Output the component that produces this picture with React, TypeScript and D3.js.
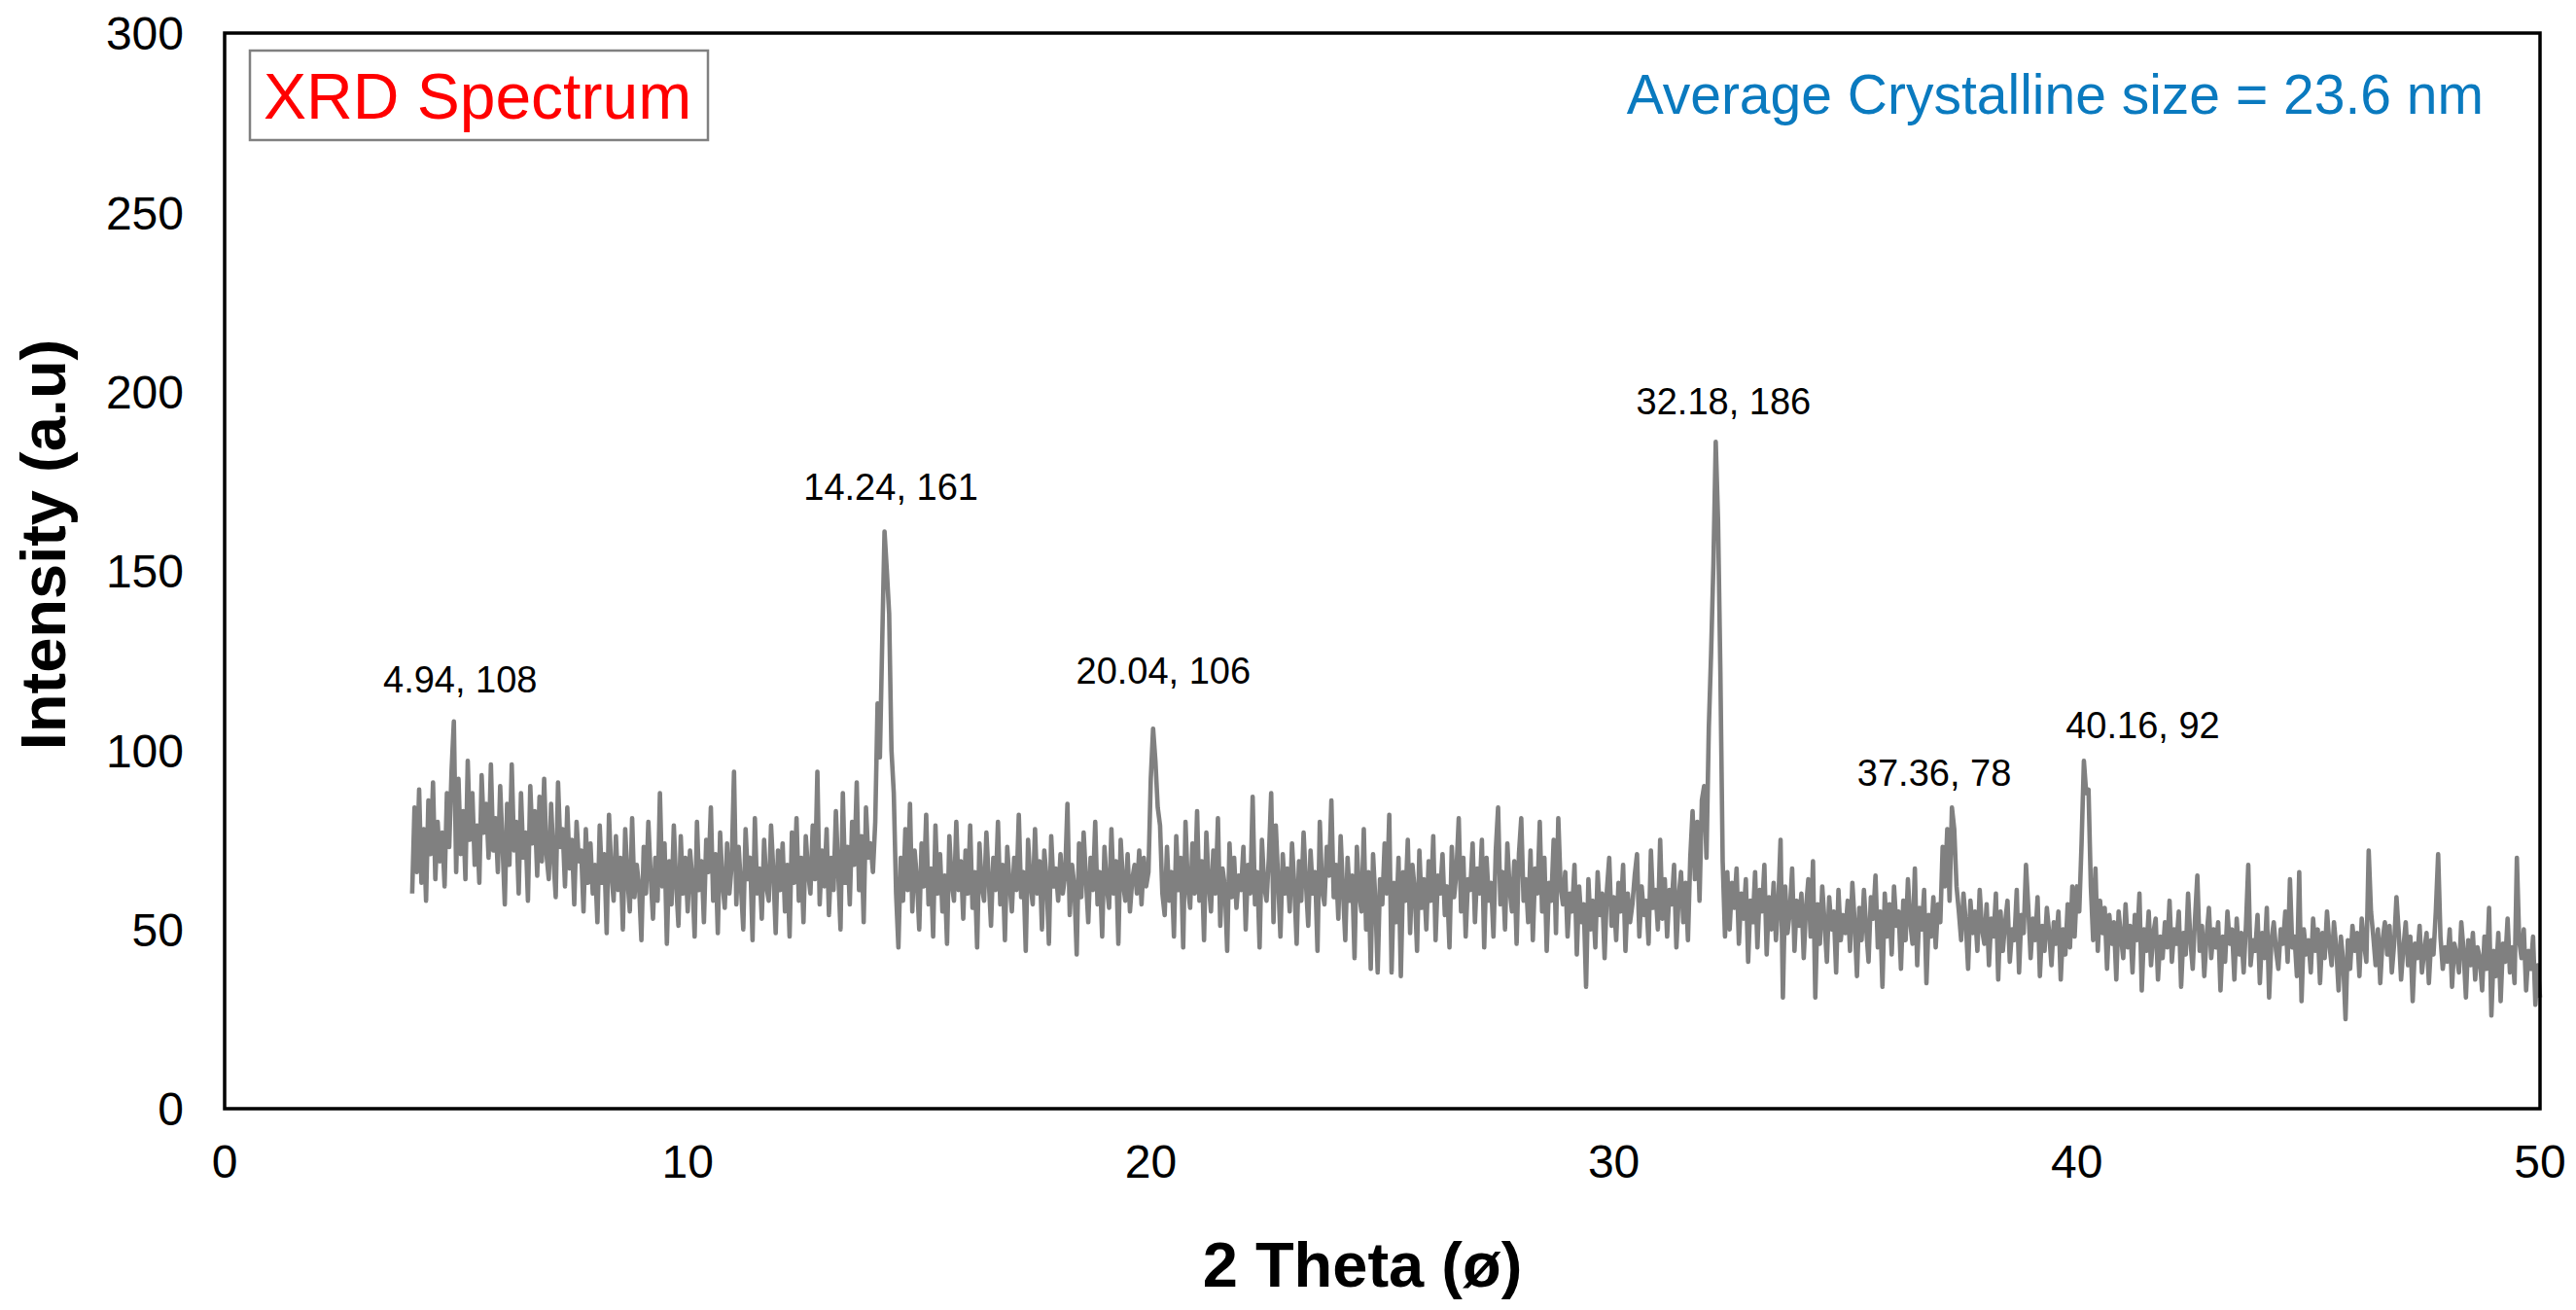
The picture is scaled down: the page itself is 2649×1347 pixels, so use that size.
import React from "react";
import * as d3 from "d3";

// ---------- data ----------
const X_START = 4.05;
const X_STEP = 0.05;

// XRD intensity counts, one row per degree of 2θ (row 4 starts at 4.05)
const intensity: number[] = [
  // 4.05 – 4.95
  60, 84, 66, 89, 63, 78, 58, 86, 71, 91, 64, 80, 69, 77, 62, 88, 73, 94, 108,
  // 5
  66, 92, 71, 83, 64, 97, 75, 88, 68, 79, 63, 93, 77, 85, 70, 96, 72, 81, 66, 90,
  // 6
  74, 57, 85, 68, 96, 72, 80, 60, 88, 70, 77, 58, 90, 74, 83, 65, 87, 69, 92, 71,
  // 7
  64, 85, 70, 59, 91, 73, 78, 62, 84, 67, 75, 57, 80, 69, 72, 55, 78, 63, 74, 60,
  // 8
  68, 52, 79, 63, 71, 49, 82, 66, 58, 76, 61, 70, 50, 78, 64, 55, 81, 59, 68, 62,
  // 9
  47, 73, 60, 80, 65, 53, 70, 58, 88, 62, 74, 46, 69, 57, 79, 63, 51, 76, 60, 70,
  // 10
  55, 72, 64, 48, 80, 61, 69, 52, 75, 66, 84, 58, 71, 49, 77, 63, 56, 74, 60, 68,
  // 11
  94, 57, 73, 62, 50, 78, 64, 70, 47, 81, 60, 67, 53, 75, 62, 58, 79, 66, 49, 72,
  // 12
  61, 74, 55, 68, 48, 77, 63, 81, 58, 70, 52, 76, 66, 60, 79, 64, 94, 57, 72, 62,
  // 13
  78, 54, 70, 61, 83, 66, 50, 88, 63, 73, 57, 80, 68, 91, 61, 76, 52, 84, 70, 74,
  // 14
  66, 80, 113, 98, 130, 161, 150, 138, 100, 88, 60, 45, 70, 58, 78, 61, 85, 55, 72, 64,
  // 15
  50, 74, 62, 82, 57, 67, 48, 79, 60, 71, 55, 65, 46, 76, 63, 58, 80, 61, 69, 53,
  // 16
  72, 60, 79, 56, 66, 45, 74, 62, 58, 77, 64, 51, 70, 61, 80, 57, 68, 47, 73, 63,
  // 17
  55, 70, 61, 82, 59, 66, 44, 75, 63, 57, 78, 60, 69, 50, 72, 64, 46, 76, 62, 67,
  // 18
  58, 71, 60, 65, 85, 54, 68, 62, 43, 74, 59, 77, 64, 52, 70, 61, 80, 57, 66, 48,
  // 19
  73, 62, 56, 78, 60, 69, 46, 75, 63, 58, 71, 55, 64, 68, 60, 72, 57, 70, 62, 66,
  // 20
  92, 106, 97, 84, 79, 60, 54, 73, 58, 66, 48, 76, 61, 70, 45, 80, 62, 56, 74, 60,
  // 21
  83, 58, 69, 47, 77, 63, 55, 72, 60, 81, 51, 67, 62, 44, 74, 59, 70, 56, 65, 61,
  // 22
  73, 50, 68, 60, 87, 57, 66, 45, 75, 62, 58, 70, 88, 52, 79, 64, 48, 71, 60, 67,
  // 23
  55, 74, 62, 46, 69, 58, 77, 63, 51, 72, 60, 66, 44, 80, 61, 57, 73, 65, 86, 59,
  // 24
  68, 53, 76, 61, 47, 70, 58, 65, 42, 73, 60, 55, 78, 50, 66, 39, 71, 58, 38, 64,
  // 25
  57, 74, 60, 82, 38, 63, 52, 70, 37, 66, 58, 75, 49, 68, 61, 44, 72, 56, 64, 50,
  // 26
  69, 58, 76, 47, 65, 60, 71, 54, 62, 45, 73, 59, 66, 81, 55, 70, 48, 64, 61, 74,
  // 27
  52, 67, 60, 75, 45, 70, 58, 63, 48, 72, 84, 57, 66, 50, 74, 61, 55, 69, 46, 71,
  // 28
  81, 58, 64, 52, 72, 47, 67, 60, 80, 55, 70, 44, 63, 58, 75, 49, 81, 62, 57, 66,
  // 29
  48, 60, 55, 68, 43, 62, 52, 57, 34, 64, 50, 58, 45, 66, 54, 60, 42, 61, 70, 51,
  // 30
  59, 47, 63, 55, 68, 44, 60, 52, 57, 65, 71, 48, 62, 54, 58, 46, 72, 56, 61, 50,
  // 31
  75, 53, 64, 48, 61, 57, 68, 45, 59, 66, 52, 63, 47, 70, 83, 64, 80, 58, 86, 90,
  // 32
  70, 106, 127, 152, 186, 164, 122, 69, 48, 66, 50, 63, 56, 67, 46, 60, 53, 64, 41, 58,
  // 33
  52, 66, 45, 61, 55, 68, 43, 59, 50, 63, 47, 57, 75, 31, 62, 49, 55, 67, 44, 58,
  // 34
  51, 60, 42, 56, 64, 48, 69, 31, 57, 46, 62, 52, 41, 59, 50, 55, 38, 61, 47, 54,
  // 35
  49, 58, 44, 63, 52, 37, 56, 47, 61, 50, 41, 59, 53, 65, 45, 55, 34, 60, 48, 57,
  // 36
  43, 62, 51, 55, 39, 58, 47, 64, 52, 46, 67, 40, 56, 50, 61, 35, 54, 48, 59, 45,
  // 37
  57, 52, 73, 62, 78, 58, 84, 78, 62, 55, 47, 60, 52, 39, 58, 49, 55, 44, 61, 50,
  // 38
  46, 57, 40, 53, 48, 60, 36, 55, 44, 52, 58, 41, 50, 47, 61, 38, 54, 49, 68, 56,
  // 39
  42, 53, 47, 59, 37, 51, 44, 56, 49, 40, 52, 46, 55, 36, 50, 43, 57, 45, 62, 48,
  // 40
  62, 55, 74, 97, 88, 89, 62, 47, 67, 44, 58, 49, 56, 39, 54, 46, 52, 36, 55, 48,
  // 41
  42, 57, 45, 51, 38, 54, 47, 60, 33, 50, 44, 55, 40, 49, 53, 36, 48, 42, 52, 45,
  // 42
  58, 41, 50, 46, 55, 34, 49, 43, 60, 47, 39, 53, 65, 44, 51, 37, 48, 56, 42, 50,
  // 43
  45, 52, 33, 48, 41, 55, 46, 50, 36, 53, 43, 49, 38, 51, 68, 40, 47, 44, 54, 35,
  // 44
  49, 42, 56, 31, 47, 52, 44, 39, 50, 46, 55, 41, 64, 45, 48, 37, 66, 30, 50, 43,
  // 45
  47, 38, 53, 44, 50, 35, 49, 42, 55, 46, 40, 52, 45, 33, 48, 41, 25, 47, 39, 51,
  // 46
  44, 49, 37, 53, 46, 41, 72, 55, 48, 40, 50, 35, 47, 52, 43, 51, 38, 46, 59, 49,
  // 47
  36, 45, 52, 40, 48, 30, 46, 42, 51, 38, 44, 49, 35, 47, 43, 55, 71, 48, 39, 45,
  // 48
  41, 50, 34, 46, 43, 38, 52, 44, 31, 47, 40, 49, 36, 45, 42, 33, 48, 39, 56, 26,
  // 49
  44, 37, 49, 30, 46, 41, 53, 38, 45, 35, 70, 47, 42, 50, 33, 44, 39, 48, 29, 40,
  // 50
  31,
];

const xTicks = [0, 10, 20, 30, 40, 50];
const yTicks = [0, 50, 100, 150, 200, 250, 300];

const peakTheta = [4.94, 14.24, 20.04, 32.18, 37.36, 40.16];
const peakIntensity = [108, 161, 106, 186, 78, 92];

// label offsets from their peak (px)
const peakLabelDx = [7, 7, 11, 9, -21, 60];
const peakLabelDy = [-44, -46, -60, -42, -58, -56];

const chartTitle = "XRD Spectrum";
const sizeNote = "Average Crystalline size = 23.6 nm";
const xTitle = "2 Theta (ø)";
const yTitle = "Intensity (a.u)";

// ---------- layout ----------
const W = 2649;
const H = 1347;
const PL = 231;
const PR = 2612;
const PT = 34;
const PB = 1140;
const FONT = "'Liberation Sans', Arial, Helvetica, sans-serif";

export default function App() {
  const x = d3.scaleLinear().domain([0, 50]).range([PL, PR]);
  const y = d3.scaleLinear().domain([0, 300]).range([PB, PT]);

  const pts: [number, number][] = intensity.map((v, i) => [X_START + i * X_STEP, v]);
  const line = d3
    .line<[number, number]>()
    .x((d) => x(d[0]))
    .y((d) => y(d[1]));

  return (
    <svg
      width={W}
      height={H}
      viewBox={`0 0 ${W} ${H}`}
      style={{ position: "absolute", left: 0, top: 0, display: "block", background: "#fff" }}
      fontFamily={FONT}
    >
      <rect x={0} y={0} width={W} height={H} fill="#fff" />

      {/* spectrum */}
      <path
        d={line(pts) || ""}
        fill="none"
        stroke="#808080"
        strokeWidth={4.6}
        strokeLinejoin="round"
      />

      {/* frame */}
      <rect x={PL} y={PT} width={PR - PL} height={PB - PT} fill="none" stroke="#000" strokeWidth={3.5} />

      {/* y tick labels */}
      {yTicks.map((t) => (
        <text key={"y" + t} x={189} y={y(t)} dy="0.36em" textAnchor="end" fontSize={48} fill="#000">
          {t}
        </text>
      ))}

      {/* x tick labels */}
      {xTicks.map((t) => (
        <text key={"x" + t} x={x(t)} y={1211} textAnchor="middle" fontSize={48} fill="#000">
          {t}
        </text>
      ))}

      {/* axis titles */}
      <text x={1401} y={1323} textAnchor="middle" fontSize={65} fontWeight="bold" fill="#000">
        {xTitle}
      </text>
      <text
        transform={`translate(67, 560) rotate(-90)`}
        textAnchor="middle"
        fontSize={65}
        fontWeight="bold"
        fill="#000"
      >
        {yTitle}
      </text>

      {/* peak labels */}
      {peakTheta.map((p, i) => (
        <text
          key={"p" + i}
          x={x(p) + peakLabelDx[i]}
          y={y(peakIntensity[i]) + peakLabelDy[i]}
          dy="0.36em"
          textAnchor="middle"
          fontSize={38}
          fill="#000"
        >
          {`${p.toFixed(2)}, ${peakIntensity[i]}`}
        </text>
      ))}

      {/* title box */}
      <rect x={257} y={52} width={471} height={92} fill="#fff" stroke="#808080" strokeWidth={2.5} />
      <text x={271} y={122} fontSize={66} fill="#ff0000">
        {chartTitle}
      </text>

      {/* crystalline size note */}
      <text x={2554} y={117} textAnchor="end" fontSize={57} fill="#0a7abf">
        {sizeNote}
      </text>
    </svg>
  );
}
